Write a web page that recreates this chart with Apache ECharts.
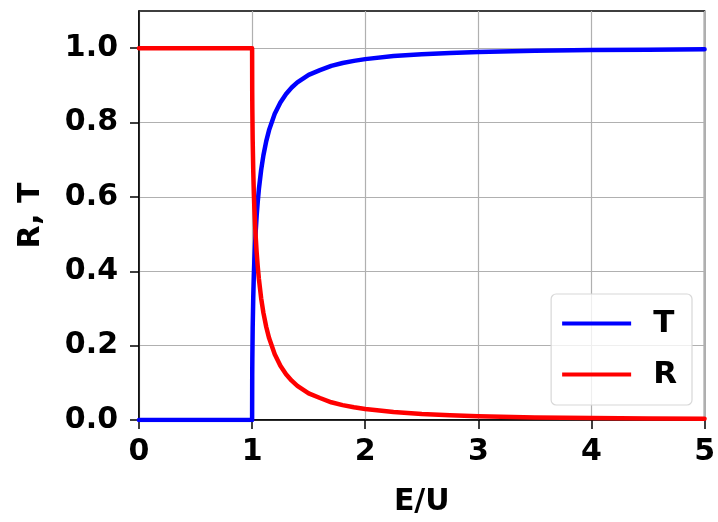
<!DOCTYPE html>
<html><head><meta charset="utf-8">
<script src="https://cdn.jsdelivr.net/npm/echarts@6/dist/echarts.min.js"></script>
<style>html,body{margin:0;padding:0;background:#fff}#c{width:718px;height:522px}</style>
</head><body><div id="c"></div>
<script>
var xVals = [0, 1.0, 1.001, 1.002, 1.005, 1.01, 1.015, 1.02, 1.03, 1.04, 1.05, 1.06, 1.08, 1.1, 1.125, 1.15, 1.2, 1.25, 1.3, 1.35, 1.4, 1.5, 1.6, 1.7, 1.8, 1.9, 2.0, 2.25, 2.5, 2.75, 3.0, 3.5, 4.0, 4.5, 5.0];
var tVals = [0, 0, 0.1188, 0.1638, 0.2462, 0.3292, 0.3866, 0.4310, 0.4981, 0.5483, 0.5882, 0.6210, 0.6727, 0.7120, 0.7500, 0.7797, 0.8234, 0.8541, 0.8768, 0.8942, 0.9080, 0.9282, 0.9408, 0.9524, 0.9600, 0.9659, 0.9706, 0.9787, 0.9839, 0.9873, 0.9898, 0.9930, 0.9948, 0.9961, 0.9969];
var rVals = [1, 1, 0.8812, 0.8362, 0.7538, 0.6708, 0.6134, 0.5690, 0.5019, 0.4517, 0.4118, 0.3790, 0.3273, 0.2880, 0.2500, 0.2203, 0.1766, 0.1459, 0.1232, 0.1058, 0.0920, 0.0718, 0.0592, 0.0476, 0.0400, 0.0341, 0.0294, 0.0213, 0.0161, 0.0127, 0.0102, 0.0070, 0.0052, 0.0039, 0.0031];
var xTicks = [0, 1, 2, 3, 4, 5];
var yTicks = [0.0, 0.2, 0.4, 0.6, 0.8, 1.0];

function pairs(xs, ys){ return xs.map(function(x,i){return [x, ys[i]];}); }
var font = 'DejaVu Sans';
var chart = echarts.init(document.getElementById('c'), null, {renderer:'canvas'});
chart.setOption({
  animation: false,
  backgroundColor: '#fff',
  grid: {left: 139, top: 11, width: 567, height: 410, show: true, borderColor: '#000', borderWidth: 1.5, containLabel: false},
  xAxis: {
    type: 'value', min: 0, max: 5, interval: 1,
    name: 'E/U', nameLocation: 'middle', nameGap: 67,
    nameTextStyle: {fontFamily: font, fontWeight: 'bold', fontSize: 30, color: '#000'},
    axisLine: {show: true, lineStyle: {color: '#000', width: 1.5}},
    axisTick: {show: true, length: 9, customValues: xTicks, lineStyle: {color: '#000', width: 1.5}},
    axisLabel: {fontFamily: font, fontWeight: 'bold', fontSize: 30, color: '#000', margin: 17,
      customValues: xTicks, formatter: function(v){ return String(v); }},
    splitLine: {show: true, lineStyle: {color: '#b0b0b0', width: 1.2}}
  },
  yAxis: {
    type: 'value', min: 0, max: 1.1, interval: 0.2,
    name: 'R, T', nameLocation: 'middle', nameGap: 93, nameRotate: 90,
    nameTextStyle: {fontFamily: font, fontWeight: 'bold', fontSize: 30, color: '#000'},
    axisLine: {show: true, lineStyle: {color: '#000', width: 1.5}},
    axisTick: {show: true, length: 9, customValues: yTicks, lineStyle: {color: '#000', width: 1.5}},
    axisLabel: {fontFamily: font, fontWeight: 'bold', fontSize: 30, color: '#000', margin: 21,
      customValues: yTicks, formatter: function(v){ return v.toFixed(1); }},
    splitLine: {show: true, lineStyle: {color: '#b0b0b0', width: 1.2}}
  },
  legend: {
    right: 26, top: 294, orient: 'vertical', itemWidth: 69, itemHeight: 4, itemGap: 20,
    padding: [14, 15, 15, 11],
    backgroundColor: 'rgba(255,255,255,0.8)', borderColor: '#d8d8d8', borderWidth: 1.2, borderRadius: 5,
    textStyle: {fontFamily: font, fontWeight: 'bold', fontSize: 31, lineHeight: 30, color: '#000', padding: [0,0,0,17]},
    icon: 'rect',
    data: [{name: 'T'}, {name: 'R'}]
  },
  series: [
    {name: 'T', type: 'line', data: pairs(xVals, tVals), showSymbol: false, symbol: 'none', smooth: false,
     lineStyle: {color: '#0000ff', width: 4.5, join: 'round', cap: 'round'}, itemStyle: {color: '#0000ff'}, z: 2, clip: true},
    {name: 'R', type: 'line', data: pairs(xVals, rVals), showSymbol: false, symbol: 'none', smooth: false,
     lineStyle: {color: '#ff0000', width: 4.5, join: 'round', cap: 'round'}, itemStyle: {color: '#ff0000'}, z: 3, clip: true}
  ]
});
</script></body></html>
